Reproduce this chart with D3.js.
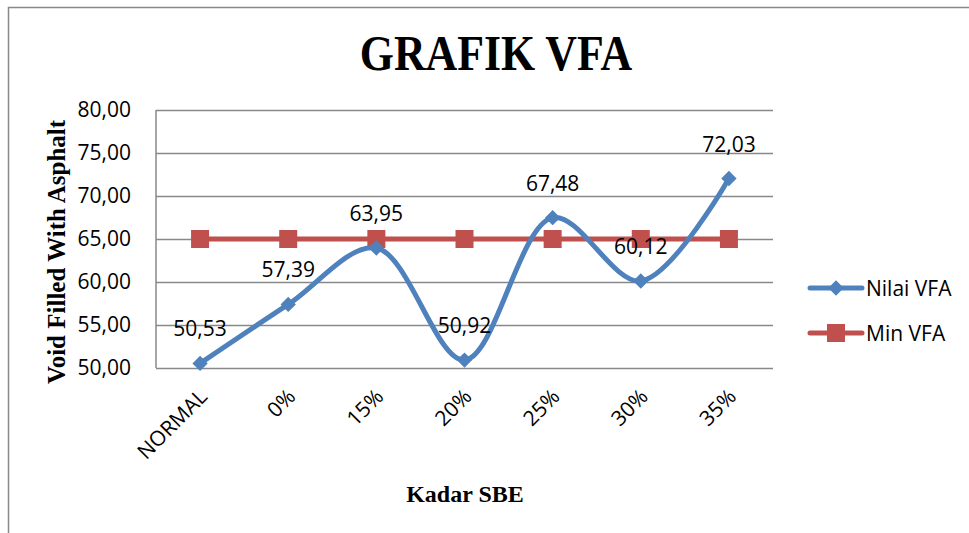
<!doctype html>
<html lang='en'>
<head>
  <meta charset='UTF-8'>
  <title>Grafik VFA</title>
  <style>
    body { margin: 0; background: #fff; }
    svg text { font-family: 'Open Sans', sans-serif; fill: #000; }
    .serif { font-family: 'Liberation Serif', 'Times New Roman', serif; font-weight: bold; }
  </style>
</head>
<body>
<script src='https://d3js.org/d3.v7.min.js'></script>
<script>
  const categories = ['NORMAL', '0%', '15%', '20%', '25%', '30%', '35%']
  const nilaiVFA = [50.53, 57.39, 63.95, 50.92, 67.48, 60.12, 72.03]
  const minVFA = [65, 65, 65, 65, 65, 65, 65]
  const yTicks = [50, 55, 60, 65, 70, 75, 80]

  const w = 969
  const h = 533
  const plot = { left: 156, right: 773, top: 110, bottom: 368 }

  const blue = '#4f81bd'
  const red = '#c0504d'
  const grid = '#888888'

  const fmt = v => d3.format('.2f')(v).replace('.', ',')

  const x = d3.scalePoint()
    .domain(categories)
    .range([plot.left, plot.right])
    .padding(0.5)

  const y = d3.scaleLinear()
    .domain([50, 80])
    .range([plot.bottom, plot.top])

  const svg = d3.select('body')
    .append('svg')
    .attr('width', w)
    .attr('height', h)

  // outer chart border (only top and left are inside the frame)
  svg.append('path')
    .attr('d', `M8.5,${h} L8.5,7.5 L${w},7.5`)
    .attr('fill', 'none')
    .attr('stroke', grid)
    .attr('stroke-width', 1.5)

  // title
  svg.append('text')
    .attr('class', 'serif')
    .attr('transform', 'translate(496,70) scale(0.86,1)')
    .attr('text-anchor', 'middle')
    .attr('font-size', 51)
    .text('GRAFIK VFA')

  /******************** grid + axes ******************/

  const yAxis = d3.axisLeft(y)
    .tickValues(yTicks)
    .tickSize(-(plot.right - plot.left))
    .tickPadding(25)
    .tickFormat(fmt)

  const gy = svg.append('g')
    .attr('transform', `translate(${plot.left},0)`)
    .call(yAxis)
  gy.select('.domain').remove()
  gy.selectAll('.tick line').attr('stroke', grid).attr('stroke-width', 1.5)
  gy.selectAll('.tick text')
    .attr('font-size', 21)
    .attr('font-family', "'Open Sans', sans-serif")
    .attr('fill', '#000')

  svg.append('line')
    .attr('x1', plot.left).attr('x2', plot.left)
    .attr('y1', plot.top).attr('y2', plot.bottom)
    .attr('stroke', grid).attr('stroke-width', 1.5)

  const xAxis = d3.axisBottom(x).tickSize(0).tickPadding(0)
  const gx = svg.append('g')
    .attr('transform', `translate(0,${plot.bottom})`)
    .call(xAxis)
  gx.select('.domain').remove()
  gx.selectAll('.tick text')
    .attr('font-size', 21)
    .attr('font-family', "'Open Sans', sans-serif")
    .attr('fill', '#000')
    .attr('text-anchor', 'end')
    .attr('dy', 0)
    .attr('transform', 'translate(8,30) rotate(-45)')

  // axis titles
  svg.append('text')
    .attr('class', 'serif')
    .attr('transform', 'translate(65,252) rotate(-90)')
    .attr('text-anchor', 'middle')
    .attr('font-size', 25)
    .text('Void Filled With Asphalt')

  svg.append('text')
    .attr('class', 'serif')
    .attr('x', 465)
    .attr('y', 502)
    .attr('text-anchor', 'middle')
    .attr('font-size', 24)
    .text('Kadar SBE')

  /******************** series ******************/

  const minLine = d3.line()
    .x((d, i) => x(categories[i]))
    .y(d => y(d))

  svg.append('path')
    .datum(minVFA)
    .attr('d', minLine)
    .attr('fill', 'none')
    .attr('stroke', red)
    .attr('stroke-width', 5)

  svg.selectAll('rect.min')
    .data(minVFA)
    .enter()
    .append('rect')
    .attr('class', 'min')
    .attr('x', (d, i) => x(categories[i]) - 9)
    .attr('y', d => y(d) - 9)
    .attr('width', 18)
    .attr('height', 18)
    .attr('fill', red)

  const vfaLine = d3.line()
    .x((d, i) => x(categories[i]))
    .y(d => y(d))
    .curve(d3.curveCatmullRom.alpha(0.5))

  svg.append('path')
    .datum(nilaiVFA)
    .attr('d', vfaLine)
    .attr('fill', 'none')
    .attr('stroke', blue)
    .attr('stroke-width', 5)
    .attr('stroke-linecap', 'round')

  const diamond = d3.symbol().type(d3.symbolDiamond2).size(150)

  svg.selectAll('path.vfa')
    .data(nilaiVFA)
    .enter()
    .append('path')
    .attr('class', 'vfa')
    .attr('d', diamond)
    .attr('transform', (d, i) => `translate(${x(categories[i])},${y(d)})`)
    .attr('fill', blue)

  svg.selectAll('text.lbl')
    .data(nilaiVFA)
    .enter()
    .append('text')
    .attr('class', 'lbl')
    .attr('x', (d, i) => x(categories[i]))
    .attr('y', d => y(d) - 27)
    .attr('text-anchor', 'middle')
    .attr('font-size', 21)
    .text(fmt)

  /******************** legend ******************/

  const legend = [
    { name: 'Nilai VFA', color: blue, marker: 'diamond', y: 288 },
    { name: 'Min VFA', color: red, marker: 'square', y: 333 }
  ]

  const lg = svg.selectAll('g.legend')
    .data(legend)
    .enter()
    .append('g')
    .attr('class', 'legend')
    .attr('transform', d => `translate(810,${d.y})`)

  lg.append('line')
    .attr('x1', 0).attr('x2', 52)
    .attr('stroke', d => d.color)
    .attr('stroke-width', 5)
    .attr('stroke-linecap', 'round')

  lg.filter(d => d.marker === 'diamond')
    .append('path')
    .attr('d', diamond)
    .attr('transform', 'translate(26,0)')
    .attr('fill', blue)

  lg.filter(d => d.marker === 'square')
    .append('rect')
    .attr('x', 17).attr('y', -9)
    .attr('width', 18).attr('height', 18)
    .attr('fill', red)

  lg.append('text')
    .attr('x', 56)
    .attr('y', 7.5)
    .attr('font-size', 21)
    .text(d => d.name)
</script>
</body>
</html>
